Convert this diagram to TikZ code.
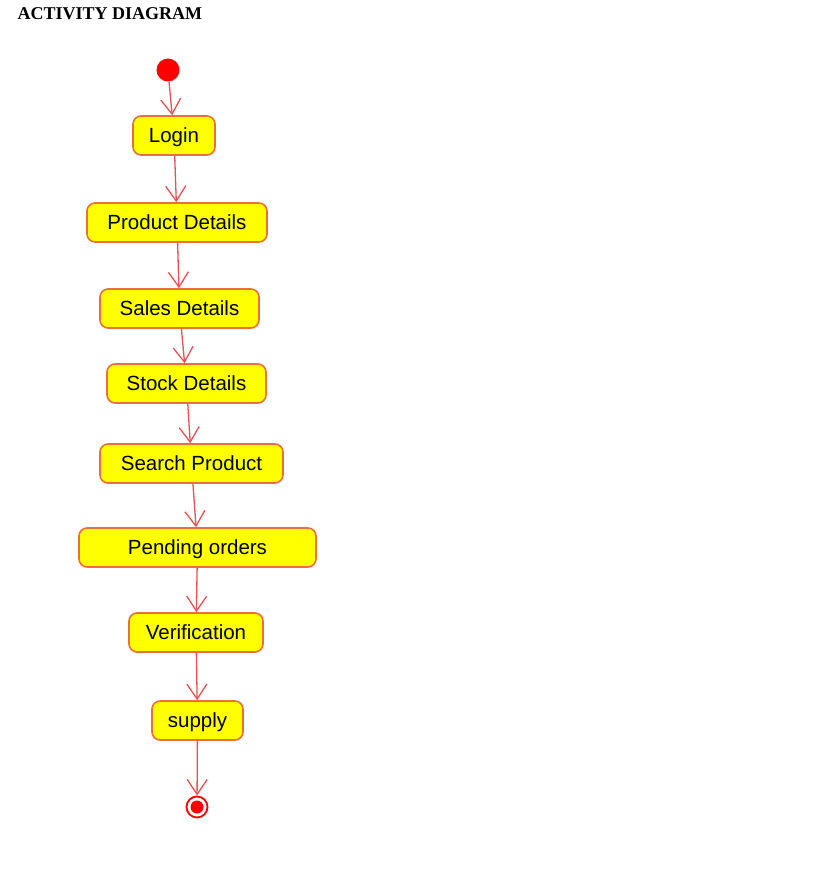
\documentclass[tikz,border=0pt]{standalone}
\usepackage{fontspec}
\setmainfont{Liberation Serif}
\newfontfamily\boxfont{Liberation Sans}
\usetikzlibrary{arrows.meta}
\definecolor{boxborder}{RGB}{235,110,60}
\definecolor{arrowred}{RGB}{235,80,80}
\definecolor{boxfill}{RGB}{255,255,0}
\begin{document}
\begin{tikzpicture}[x=1pt,y=1pt,
  act/.style={draw=boxborder,fill=boxfill,line width=1.6pt,rounded corners=8pt,
    minimum height=39pt,inner sep=0pt,text height=14pt,text depth=0pt,
    font=\boxfont\fontsize{20.5}{24}\selectfont},
  flow/.style={draw=arrowred,line width=1.3pt,-{Straight Barb[length=15pt,width=20pt,line width=1.3pt]}}]
\useasboundingbox (0,0) rectangle (829,-890);
\node[anchor=west,font=\bfseries\fontsize{18}{20}\selectfont] (title) at (14,-14) {ACTIVITY DIAGRAM};
\node[circle,fill=red,minimum size=23pt,inner sep=0pt] (start) at (168,-70) {};
\node[act,minimum width=82pt] (login) at (174,-135.5) {Login};
\node[act,minimum width=180pt] (prod) at (177,-222.5) {Product Details};
\node[act,minimum width=159pt] (sales) at (179.5,-308.5) {Sales Details};
\node[act,minimum width=159pt] (stock) at (186.5,-383.5) {Stock Details};
\node[act,minimum width=183pt] (search) at (191.5,-463.5) {Search Product};
\node[act,minimum width=237pt] (pending) at (197.5,-547.5) {Pending orders};
\node[act,minimum width=134pt] (verif) at (196,-632.5) {Verification};
\node[act,minimum width=91pt] (supply) at (197.5,-720.5) {supply};
\node[circle,draw=red,line width=1.8pt,fill=white,minimum size=21pt,inner sep=0pt] (end) at (197,-807) {};
\fill[red] (end.center) circle (6.5pt);
\draw[flow] (start) -- (login);
\draw[flow] (login) -- (prod);
\draw[flow] (prod) -- (sales);
\draw[flow] (sales) -- (stock);
\draw[flow] (stock) -- (search);
\draw[flow] (search) -- (pending);
\draw[flow] (pending) -- (verif);
\draw[flow] (verif) -- (supply);
\draw[flow] (supply) -- (end);
\end{tikzpicture}
\end{document}
